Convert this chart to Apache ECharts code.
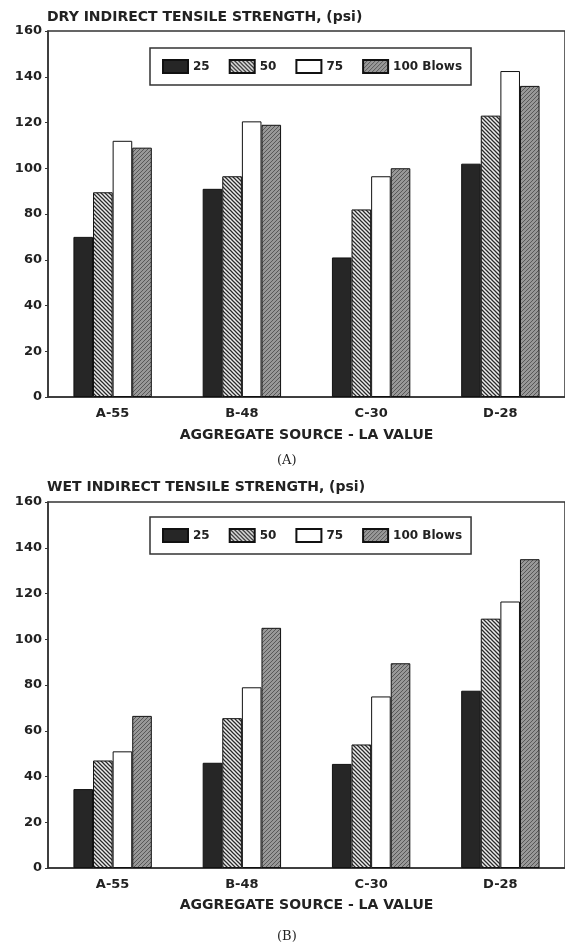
<!DOCTYPE html>
<html>
<head>
<meta charset="utf-8">
<script src="https://cdn.jsdelivr.net/npm/echarts@6/dist/echarts.min.js"></script>
<style>
html,body{margin:0;padding:0;background:#fff;}
#c{width:565px;height:950px;}
</style>
</head>
<body>
<div id="c"></div>
<script>
// ---- data ----
var categories = ['A-55', 'B-48', 'C-30', 'D-28'];
var seriesNames = ['25', '50', '75', '100 Blows'];
var yTicks = [0, 20, 40, 60, 80, 100, 120, 140, 160];
var dry25 = [70, 91, 61, 102];
var dry50 = [89.5, 96.5, 82, 123];
var dry75 = [112, 120.5, 96.5, 142.5];
var dry100 = [109, 119, 100, 136];
var wet25 = [34.5, 46, 45.5, 77.5];
var wet50 = [47, 65.5, 54, 109];
var wet75 = [51, 79, 75, 116.5];
var wet100 = [66.5, 105, 89.5, 135];
var titleDry = 'DRY INDIRECT TENSILE STRENGTH, (psi)';
var titleWet = 'WET INDIRECT TENSILE STRENGTH, (psi)';
var xName = 'AGGREGATE SOURCE - LA VALUE';
var panelA = '(A)';
var panelB = '(B)';

// ---- patterns ----
function hatchPattern() {
  var c = document.createElement('canvas');
  c.width = 4; c.height = 4;
  var g = c.getContext('2d');
  g.fillStyle = '#ececec'; g.fillRect(0, 0, 4, 4);
  g.strokeStyle = '#2a2a2a'; g.lineWidth = 1.25;
  g.beginPath();
  g.moveTo(-1, -1); g.lineTo(5, 5);
  g.moveTo(-1, 3); g.lineTo(1, 5);
  g.moveTo(3, -1); g.lineTo(5, 1);
  g.stroke();
  return c;
}
function grayPattern() {
  var c = document.createElement('canvas');
  c.width = 4; c.height = 4;
  var g = c.getContext('2d');
  g.fillStyle = '#989898'; g.fillRect(0, 0, 4, 4);
  g.fillStyle = '#585858';
  g.fillRect(0, 0, 1, 1); g.fillRect(2, 2, 1, 1);
  g.fillRect(1, 3, 1, 1); g.fillRect(3, 1, 1, 1);
  return c;
}
var fills = [
  '#262626',
  { image: hatchPattern(), repeat: 'repeat' },
  '#ffffff',
  { image: grayPattern(), repeat: 'repeat' }
];

var FONT = 'DejaVu Sans';
var chart = echarts.init(document.getElementById('c'), null, { renderer: 'canvas' });

function mkX(gi, gap) {
  return {
    type: 'category', gridIndex: gi, data: categories,
    axisLine: { lineStyle: { color: '#333', width: 1.5 } },
    axisTick: { show: false },
    axisLabel: { color: '#222', fontFamily: FONT, fontWeight: 'bold', fontSize: 13, margin: 10 },
    name: xName, nameLocation: 'middle', nameGap: gap,
    nameTextStyle: { color: '#222', fontFamily: FONT, fontWeight: 'bold', fontSize: 14 }
  };
}
function mkY(gi) {
  return {
    type: 'value', gridIndex: gi, min: yTicks[0], max: yTicks[yTicks.length - 1],
    interval: yTicks[1] - yTicks[0],
    splitLine: { show: false },
    axisLine: { show: true, lineStyle: { color: '#333', width: 1.5 } },
    axisTick: { show: true, inside: false, length: 3, lineStyle: { color: '#333' } },
    axisLabel: { color: '#222', fontFamily: FONT, fontWeight: 'bold', fontSize: 13, margin: 6 }
  };
}
var allData = [[dry25, dry50, dry75, dry100], [wet25, wet50, wet75, wet100]];
var series = [];
for (var gi = 0; gi < 2; gi++) {
  for (var s = 0; s < 4; s++) {
    series.push({
      type: 'bar', name: seriesNames[s], xAxisIndex: gi, yAxisIndex: gi,
      data: allData[gi][s], barWidth: 19.6, barGap: '0%',
      itemStyle: { color: fills[s], borderColor: '#111', borderWidth: 1 },
      emphasis: { disabled: true }
    });
  }
}
function mkLegend(top) {
  return {
    data: seriesNames.map(function (n) { return { name: n, icon: 'rect' }; }),
    left: 150, top: top, orient: 'horizontal',
    borderColor: '#333', borderWidth: 1.5, padding: [11, 9, 11, 12],
    itemWidth: 25, itemHeight: 13, itemGap: 19,
    selectedMode: false,
    textStyle: { color: '#222', fontFamily: FONT, fontWeight: 'bold', fontSize: 12 }
  };
}
chart.setOption({
  animation: false,
  backgroundColor: '#fff',
  title: [
    { text: titleDry, left: 47, top: 10, textStyle: { fontFamily: FONT, fontWeight: 'bold', fontSize: 14, color: '#222' }, padding: 0 },
    { text: titleWet, left: 47, top: 480, textStyle: { fontFamily: FONT, fontWeight: 'bold', fontSize: 14, color: '#222' }, padding: 0 },
    { text: panelA, left: 277, top: 454, textStyle: { fontFamily: 'DejaVu Serif', fontWeight: 'normal', fontSize: 13, color: '#222' }, padding: 0 },
    { text: panelB, left: 277, top: 930, textStyle: { fontFamily: 'DejaVu Serif', fontWeight: 'normal', fontSize: 13, color: '#222' }, padding: 0 }
  ],
  grid: [
    { left: 48, top: 31, width: 523, height: 366, show: true, borderColor: '#333', borderWidth: 1.5, backgroundColor: 'transparent' },
    { left: 48, top: 502, width: 523, height: 366, show: true, borderColor: '#333', borderWidth: 1.5, backgroundColor: 'transparent' }
  ],
  legend: [mkLegend(48), mkLegend(517)],
  xAxis: [mkX(0, 31), mkX(1, 30)],
  yAxis: [mkY(0), mkY(1)],
  series: series
});
</script>
</body>
</html>
